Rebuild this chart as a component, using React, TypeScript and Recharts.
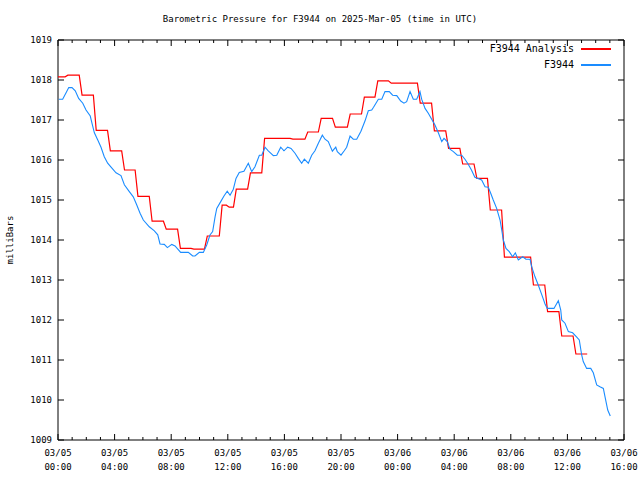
import React from 'react';
import { LineChart, Line, XAxis, YAxis, ReferenceArea } from 'recharts';

// F3944 station readings (hours since 03/05 00:00 UTC, millibars)
const stationHours = [
  0.05, 0.33, 0.57, 0.76, 0.99, 1.22, 1.46, 1.75, 1.98, 2.28, 2.4, 2.57, 2.81, 3.04, 3.27, 3.51, 3.75, 4.1, 4.45, 4.69,
  5.04, 5.32, 5.56, 5.8, 6.03, 6.45, 6.81, 7.05, 7.21, 7.51, 7.73, 8.04, 8.27, 8.67, 9.21, 9.52, 9.68, 9.99, 10.27, 10.51,
  10.74, 10.93, 11.1, 11.22, 11.5, 11.73, 11.96, 12.16, 12.39, 12.58, 12.81, 13.14, 13.45, 13.69, 13.92, 14.23, 14.4, 14.63, 14.86, 15.22,
  15.46, 15.74, 15.97, 16.23, 16.47, 16.75, 16.98, 17.22, 17.41, 17.69, 17.93, 18.16, 18.4, 18.68, 18.87, 19.1, 19.39, 19.63, 19.74, 20.0,
  20.23, 20.4, 20.64, 20.87, 21.11, 21.41, 21.7, 21.93, 22.17, 22.3, 22.64, 22.88, 23.11, 23.41, 23.65, 23.94, 24.22, 24.45, 24.64, 24.88,
  25.11, 25.35, 25.58, 25.7, 25.94, 26.17, 26.41, 26.64, 26.88, 27.12, 27.28, 27.51, 27.7, 27.94, 28.22, 28.53, 28.76, 28.98, 29.22, 29.46,
  29.94, 30.18, 30.41, 30.58, 30.76, 31.0, 31.24, 31.36, 31.47, 31.66, 31.89, 32.13, 32.32, 32.53, 32.84, 33.07, 33.36, 33.48, 33.71, 33.94,
  34.18, 34.42, 34.58, 35.05, 35.36, 35.53, 35.6, 35.83, 36.07, 36.37, 36.66, 36.84, 37.01, 37.12, 37.36, 37.65, 37.83, 38.07, 38.3, 38.54,
  38.66, 38.85, 39.03,
];
const stationValues = [
  1017.52, 1017.52, 1017.68, 1017.81, 1017.81, 1017.73, 1017.54, 1017.42, 1017.25, 1017.1, 1016.92, 1016.68, 1016.5, 1016.32, 1016.08, 1015.92, 1015.82, 1015.68, 1015.61, 1015.38,
  1015.21, 1015.08, 1014.88, 1014.67, 1014.5, 1014.33, 1014.23, 1014.13, 1013.9, 1013.89, 1013.81, 1013.89, 1013.85, 1013.69, 1013.69, 1013.6, 1013.6, 1013.69, 1013.69, 1013.875,
  1014.125, 1014.21, 1014.58, 1014.79, 1014.96, 1015.1, 1015.22, 1015.12, 1015.27, 1015.54, 1015.69, 1015.72, 1015.92, 1015.71, 1015.83, 1016.12, 1016.12, 1016.32, 1016.23, 1016.11,
  1016.12, 1016.32, 1016.23, 1016.32, 1016.29, 1016.17, 1016.04, 1015.92, 1016.02, 1015.92, 1016.12, 1016.23, 1016.42, 1016.62, 1016.52, 1016.46, 1016.22, 1016.32, 1016.21, 1016.12,
  1016.23, 1016.32, 1016.6, 1016.52, 1016.52, 1016.72, 1016.98, 1017.23, 1017.25, 1017.32, 1017.52, 1017.52, 1017.71, 1017.71, 1017.62, 1017.61, 1017.475, 1017.42, 1017.46, 1017.71,
  1017.52, 1017.52, 1017.71, 1017.52, 1017.29, 1017.17, 1017.02, 1016.875, 1016.68, 1016.46, 1016.54, 1016.46, 1016.27, 1016.21, 1016.12, 1016.12, 1016.02, 1015.9, 1015.75, 1015.57,
  1015.5, 1015.33, 1015.32, 1015.17, 1015.0, 1014.79, 1014.5, 1014.25, 1014.0, 1013.79, 1013.71, 1013.58, 1013.68, 1013.5, 1013.58, 1013.52, 1013.52, 1013.33, 1013.08, 1012.875,
  1012.64, 1012.4, 1012.29, 1012.29, 1012.48, 1012.25, 1012.0, 1011.92, 1011.71, 1011.68, 1011.57, 1011.5, 1011.125, 1010.96, 1010.79, 1010.79, 1010.68, 1010.375, 1010.33, 1010.29,
  1010.08, 1009.75, 1009.6,
];

// analysis: hour at which each new value takes over, and the value
const analysisHours = [
  0, 0.6, 1.6, 2.6, 3.6, 4.6, 5.55, 6.55, 7.55, 8.55, 9.5, 10.45, 11.5, 12.0, 12.5, 13.5, 14.5, 16.5,
  17.55, 18.5, 19.5, 20.55, 21.55, 22.5, 23.45, 25.5, 26.5, 27.5, 28.5, 29.5, 30.45, 31.45, 33.5, 34.5, 35.5, 36.5,
];
const analysisValues = [
  1018.08, 1018.12, 1017.62, 1016.74, 1016.23, 1015.75, 1015.09, 1014.47, 1014.27, 1013.79, 1013.77, 1014.1, 1014.87, 1014.82, 1015.27, 1015.68, 1016.54, 1016.52,
  1016.7, 1017.04, 1016.82, 1017.15, 1017.57, 1017.98, 1017.92, 1017.42, 1016.73, 1016.29, 1015.9, 1015.54, 1014.75, 1013.57, 1012.875, 1012.21, 1011.6, 1011.15,
];
const analysisEndHour = 37.4;

const xMajorHours = [0, 4, 8, 12, 16, 20, 24, 28, 32, 36, 40];
const xDateLabels = ['03/05', '03/05', '03/05', '03/05', '03/05', '03/05', '03/06', '03/06', '03/06', '03/06', '03/06'];
const xTimeLabels = ['00:00', '04:00', '08:00', '12:00', '16:00', '20:00', '00:00', '04:00', '08:00', '12:00', '16:00'];
const yTicks = [1009, 1010, 1011, 1012, 1013, 1014, 1015, 1016, 1017, 1018, 1019];

const PLOT_TOP = 40;
const PLOT_BOTTOM = 440;
const PLOT_LEFT = 58;
const PLOT_RIGHT = 624;
const FONT = '"DejaVu Sans Mono", monospace';
const RED = '#ff0000';
const BLUE = '#1a8cff';

const stationData = stationHours.map((t, i) => ({ t, v: stationValues[i] }));

// short ramp between analysis values, like the original plot
const analysisData: { t: number; v: number }[] = [];
analysisHours.forEach((t, i) => {
  if (i > 0) {
    analysisData.push({ t: t - 0.1, v: analysisValues[i - 1] });
    analysisData.push({ t: t + 0.1, v: analysisValues[i] });
  } else {
    analysisData.push({ t, v: analysisValues[i] });
  }
});
analysisData.push({ t: analysisEndHour, v: analysisValues[analysisValues.length - 1] });

const allHours: number[] = [];
for (let h = 0; h <= 40; h++) allHours.push(h);

const XTick = (props: any) => {
  const { x, payload } = props;
  const idx = xMajorHours.indexOf(payload.value);
  const major = idx >= 0;
  const len = major ? 6 : 3;
  return (
    <g>
      <line x1={x} x2={x} y1={PLOT_BOTTOM} y2={PLOT_BOTTOM - len} stroke="#000" />
      <line x1={x} x2={x} y1={PLOT_TOP} y2={PLOT_TOP + len} stroke="#000" />
      {major && (
        <text x={x} textAnchor="middle" fontSize={9} fontFamily={FONT} fill="#000">
          <tspan x={x} y={PLOT_BOTTOM + 16}>{xDateLabels[idx]}</tspan>
          <tspan x={x} y={PLOT_BOTTOM + 30}>{xTimeLabels[idx]}</tspan>
        </text>
      )}
    </g>
  );
};

const YTick = (props: any) => {
  const { y, payload } = props;
  return (
    <g>
      <line x1={PLOT_LEFT} x2={PLOT_LEFT + 6} y1={y} y2={y} stroke="#000" />
      <line x1={PLOT_RIGHT} x2={PLOT_RIGHT - 6} y1={y} y2={y} stroke="#000" />
      <text x={PLOT_LEFT - 6} y={y + 3} textAnchor="end" fontSize={9} fontFamily={FONT} fill="#000">
        {payload.value}
      </text>
    </g>
  );
};

const legendRow = (label: string, swatch: string, top: number) => (
  <div style={{ position: 'absolute', top, right: 29, display: 'flex', alignItems: 'center', height: 12 }}>
    <span style={{ fontSize: 10, fontFamily: FONT, lineHeight: '12px' }}>{label}</span>
    <div style={{ width: 30, height: 0, borderTop: `2px solid ${swatch}`, marginLeft: 7 }} />
  </div>
);

export default function App() {
  return (
    <div style={{ position: 'absolute', left: 0, top: 0, width: 640, height: 480, background: '#fff', color: '#000' }}>
      <div
        style={{
          position: 'absolute', top: 13, left: 0, width: 640, textAlign: 'center',
          fontFamily: FONT, fontSize: 9, lineHeight: '12px',
        }}
      >
        Barometric Pressure for F3944 on 2025-Mar-05 (time in UTC)
      </div>
      <div
        style={{
          position: 'absolute', left: 10, top: 240, transform: 'translate(-50%, -50%) rotate(-90deg)',
          fontFamily: FONT, fontSize: 9, whiteSpace: 'nowrap',
        }}
      >
        milliBars
      </div>
      <LineChart width={640} height={480} margin={{ top: PLOT_TOP, right: 640 - PLOT_RIGHT, bottom: 0, left: 0 }}>
        <XAxis
          dataKey="t"
          type="number"
          domain={[0, 40]}
          ticks={allHours}
          interval={0}
          height={480 - PLOT_BOTTOM}
          axisLine={false}
          tickLine={false}
          tick={XTick}
          allowDataOverflow
        />
        <YAxis
          type="number"
          domain={[1009, 1019]}
          ticks={yTicks}
          interval={0}
          width={PLOT_LEFT}
          axisLine={false}
          tickLine={false}
          tick={YTick}
          allowDataOverflow
        />
        <ReferenceArea x1={0} x2={40} y1={1009} y2={1019} fill="none" stroke="#000" strokeWidth={1} ifOverflow="visible" />
        <Line data={analysisData} dataKey="v" type="linear" stroke={RED} strokeWidth={1.2} dot={false} isAnimationActive={false} />
        <Line data={stationData} dataKey="v" type="linear" stroke={BLUE} strokeWidth={1.1} dot={false} isAnimationActive={false} />
      </LineChart>
      {legendRow('F3944 Analysis', RED, 43)}
      {legendRow('F3944', BLUE, 59)}
    </div>
  );
}
